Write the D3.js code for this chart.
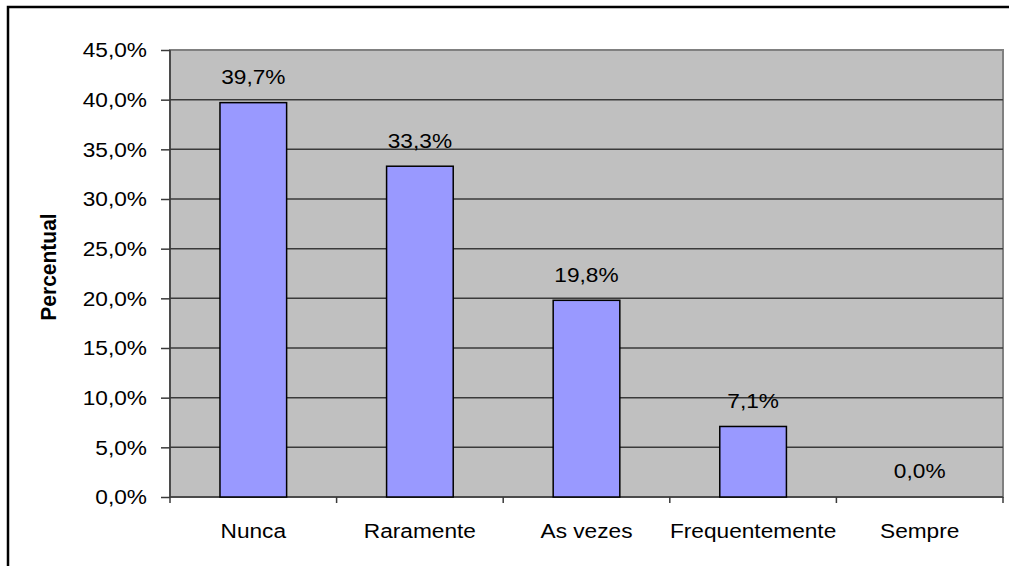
<!DOCTYPE html>
<html>
<head>
<meta charset="utf-8">
<script src="https://cdn.jsdelivr.net/npm/d3@7"></script>
<style>
  body { margin: 0; background: #fff; }
  text { font-family: "Liberation Sans", Arial, sans-serif; fill: #000; }
</style>
</head>
<body>
<div id="chart"></div>
<script>
const categories = ['Nunca', 'Raramente', 'As vezes', 'Frequentemente', 'Sempre'];
const values = [0.397, 0.333, 0.198, 0.071, 0.0];
const yTicks = [0, 0.05, 0.10, 0.15, 0.20, 0.25, 0.30, 0.35, 0.40, 0.45];

const width = 1009;
const height = 566;

const dim = {
  left: 170,
  right: 1003,
  top: 50,
  bottom: 497,
  fontSize: 21,
  stretch: 1.08,
};

const fmt = v => d3.format('.1f')(v * 100).replace('.', ',') + '%';

const svg = d3.select('#chart').append('svg')
  .attr('width', width)
  .attr('height', height);

// outer chart border (runs off the right and bottom edges)
svg.append('rect')
  .attr('x', 8).attr('y', 7)
  .attr('width', width + 20).attr('height', height + 20)
  .attr('fill', 'none')
  .attr('stroke', '#000')
  .attr('stroke-width', 2.5);

const x = d3.scaleBand().domain(categories).range([dim.left, dim.right]);
const y = d3.scaleLinear().domain([0, 0.45]).range([dim.bottom, dim.top]);

// plot area
svg.append('rect')
  .attr('x', dim.left).attr('y', dim.top)
  .attr('width', dim.right - dim.left).attr('height', dim.bottom - dim.top)
  .attr('fill', '#c0c0c0')
  .attr('stroke', '#808080')
  .attr('stroke-width', 2);

// gridlines
svg.append('g')
  .selectAll('line')
  .data(yTicks.slice(1, -1))
  .enter().append('line')
  .attr('x1', dim.left).attr('x2', dim.right)
  .attr('y1', d => y(d)).attr('y2', d => y(d))
  .attr('stroke', '#3a3a3a')
  .attr('stroke-width', 1.5);

// stretched text helper (the source picture is widened horizontally)
function label(g, tx, ty, str, anchor) {
  return g.append('text')
    .attr('transform', `translate(${tx},${ty}) scale(${dim.stretch},1)`)
    .attr('text-anchor', anchor)
    .attr('dy', '0.35em')
    .style('font-size', `${dim.fontSize}px`)
    .text(str);
}

// y axis
const yAxis = svg.append('g')
  .attr('transform', `translate(${dim.left},0)`)
  .call(d3.axisLeft(y).tickValues(yTicks).tickSize(9).tickFormat(''));
yAxis.selectAll('line, path').attr('stroke', '#3a3a3a').attr('stroke-width', 1.5);
yAxis.select('path').attr('d', `M0,${dim.top}V${dim.bottom}`);

const yLabels = svg.append('g');
yTicks.forEach(t => label(yLabels, 147, y(t), fmt(t), 'end'));

// x axis
const xAxis = svg.append('g')
  .attr('transform', `translate(0,${dim.bottom})`);
xAxis.append('line')
  .attr('x1', dim.left).attr('x2', dim.right)
  .attr('stroke', '#3a3a3a').attr('stroke-width', 1.5);
xAxis.selectAll('.tick')
  .data(categories.map(c => x(c)).concat([dim.right]))
  .enter().append('line')
  .attr('x1', d => d).attr('x2', d => d)
  .attr('y1', 0).attr('y2', 6)
  .attr('stroke', '#3a3a3a').attr('stroke-width', 1.5);

const xLabels = svg.append('g');
categories.forEach(c => label(xLabels, x(c) + x.bandwidth() / 2, 531, c, 'middle'));

// bars
const barW = x.bandwidth() * 0.4;
svg.append('g')
  .selectAll('rect')
  .data(values)
  .enter().append('rect')
  .attr('x', (d, i) => x(categories[i]) + (x.bandwidth() - barW) / 2)
  .attr('y', d => y(d))
  .attr('width', barW)
  .attr('height', d => y(0) - y(d))
  .attr('fill', '#9999ff')
  .attr('stroke', '#000')
  .attr('stroke-width', 1.5);

// value labels
const valueLabels = svg.append('g');
values.forEach((v, i) => label(valueLabels, x(categories[i]) + x.bandwidth() / 2, y(v) - 26, fmt(v), 'middle'));

// y axis title
svg.append('text')
  .attr('transform', `translate(48,267) rotate(-90) scale(1,${dim.stretch})`)
  .attr('text-anchor', 'middle')
  .attr('dy', '0.35em')
  .style('font-size', '21px')
  .style('font-weight', 'bold')
  .text('Percentual');
</script>
</body>
</html>
